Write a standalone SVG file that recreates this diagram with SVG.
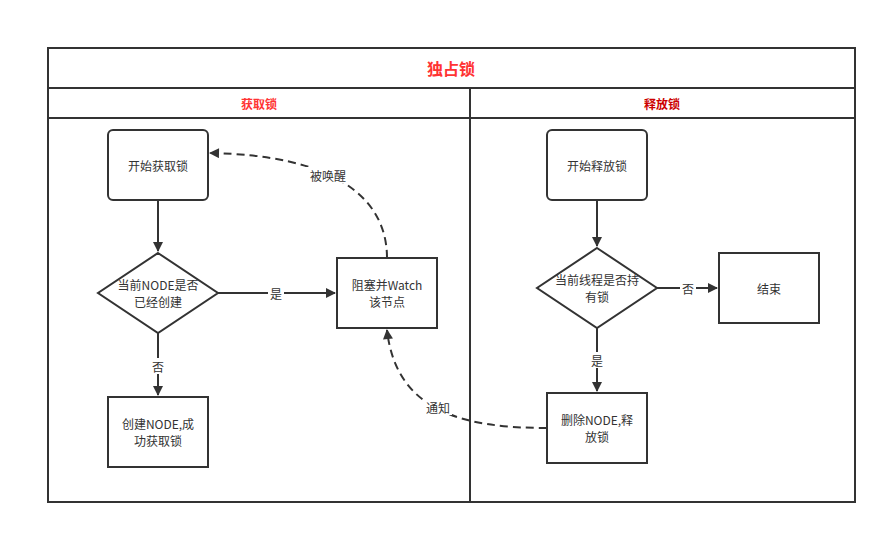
<svg xmlns="http://www.w3.org/2000/svg" width="887" height="534" viewBox="0 0 887 534">
<style>
.frame{fill:none;stroke:#333;stroke-width:2}
.box{fill:#fff;stroke:#333;stroke-width:2}
.t{font-family:"Microsoft YaHei","Noto Sans CJK SC","Noto Sans",sans-serif;font-size:12px;fill:#333;text-anchor:middle;dominant-baseline:central}
.lbl{font-family:"Noto Sans CJK SC","Noto Sans",sans-serif;font-size:12px;fill:#333;text-anchor:middle;dominant-baseline:central}
.e{fill:none;stroke:#333;stroke-width:2}
.d{fill:none;stroke:#333;stroke-width:2;stroke-dasharray:8 5}
.h{font-family:"Noto Sans CJK SC",sans-serif;font-weight:bold;text-anchor:middle;dominant-baseline:central}
</style>
<defs>
<marker id="arr" viewBox="0 0 10 10" refX="9" refY="5" markerWidth="5.5" markerHeight="5" orient="auto" markerUnits="strokeWidth">
<path d="M0,0 L10,5 L0,10 z" fill="#333"/>
</marker>
</defs>
<rect width="887" height="534" fill="#fff"/>
<g id="pool">
<rect class="frame" x="48" y="48" width="807" height="454"/>
<line class="frame" x1="48" y1="88" x2="855" y2="88"/>
<line class="frame" x1="48" y1="118" x2="855" y2="118"/>
<line class="frame" x1="470" y1="88" x2="470" y2="502"/>
<text class="h" x="451" y="68" font-size="16" fill="#FF3333">独占锁</text>
<text class="h" x="259" y="103" font-size="12" fill="#FF3333">获取锁</text>
<text class="h" x="662" y="103" font-size="12" fill="#CC0000">释放锁</text>
</g>
<g id="connectors">
<line class="e" x1="158" y1="200" x2="158" y2="251" marker-end="url(#arr)"/>
<line class="e" x1="218" y1="293" x2="335" y2="293" marker-end="url(#arr)"/>
<line class="e" x1="158" y1="333" x2="158" y2="395" marker-end="url(#arr)"/>
<path class="d" d="M387 258 C387 195, 330 155, 210 153" marker-end="url(#arr)"/>
<path class="d" d="M547 428 C460 428, 396 410, 387 330" marker-end="url(#arr)"/>
<line class="e" x1="597" y1="200" x2="597" y2="246" marker-end="url(#arr)"/>
<line class="e" x1="657" y1="288" x2="717" y2="288" marker-end="url(#arr)"/>
<line class="e" x1="597" y1="328" x2="597" y2="391" marker-end="url(#arr)"/>
<rect x="268" y="285" width="16" height="16" fill="#fff"/>
<text class="lbl" x="276" y="293">是</text>
<rect x="150" y="358" width="16" height="16" fill="#fff"/>
<text class="lbl" x="158" y="366">否</text>
<rect x="306" y="167" width="44" height="16" fill="#fff"/>
<text class="lbl" x="328" y="175">被唤醒</text>
<rect x="424" y="399" width="28" height="16" fill="#fff"/>
<text class="lbl" x="438" y="407">通知</text>
<rect x="680" y="280" width="16" height="16" fill="#fff"/>
<text class="lbl" x="688" y="288">否</text>
<rect x="589" y="352" width="16" height="16" fill="#fff"/>
<text class="lbl" x="597" y="360">是</text>
</g>
<g id="start-acquire">
<rect class="box" x="108" y="130" width="100" height="70" rx="5"/>
<text class="t" x="158" y="165">开始获取锁</text>
</g>
<g id="node-exists">
<polygon class="box" points="158,253 218,293 158,333 98,293"/>
<text class="t" x="158" y="284.5">当前NODE是否</text>
<text class="t" x="158" y="301.5">已经创建</text>
</g>
<g id="block-watch">
<rect class="box" x="337" y="258" width="100" height="70"/>
<text class="t" x="387" y="284.5">阻塞并Watch</text>
<text class="t" x="387" y="301.5">该节点</text>
</g>
<g id="create-node">
<rect class="box" x="108" y="397" width="100" height="70"/>
<text class="t" x="158" y="423.5">创建NODE,成</text>
<text class="t" x="158" y="440.5">功获取锁</text>
</g>
<g id="start-release">
<rect class="box" x="547" y="130" width="100" height="70" rx="5"/>
<text class="t" x="597" y="165">开始释放锁</text>
</g>
<g id="holds-lock">
<polygon class="box" points="597,248 657,288 597,328 537,288"/>
<text class="t" x="597" y="279.5">当前线程是否持</text>
<text class="t" x="597" y="296.5">有锁</text>
</g>
<g id="end">
<rect class="box" x="719" y="253" width="100" height="70"/>
<text class="t" x="769" y="288">结束</text>
</g>
<g id="delete-node">
<rect class="box" x="547" y="393" width="100" height="70"/>
<text class="t" x="597" y="419.5">删除NODE,释</text>
<text class="t" x="597" y="436.5">放锁</text>
</g>
</svg>
